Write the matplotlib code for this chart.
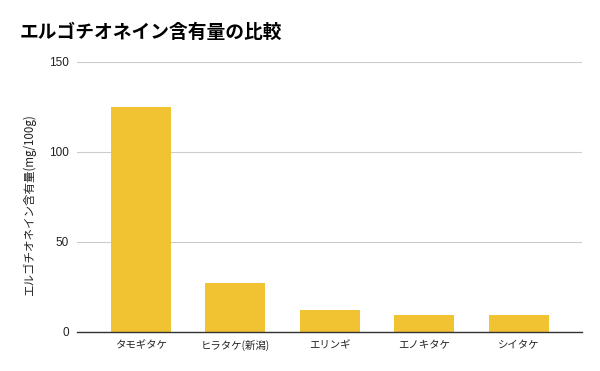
import matplotlib
matplotlib.use("Agg")
import matplotlib.pyplot as plt

plt.rcParams['font.family'] = ['Noto Sans CJK JP', 'DejaVu Sans']

categories = ["タモギタケ", "ヒラタケ(新潟)", "エリンギ", "エノキタケ", "シイタケ"]
values = [125, 27, 12, 9.4, 9.4]
yticks = [0, 50, 100, 150]

fig = plt.figure(figsize=(6, 3.71), dpi=100)
ax = fig.add_axes([77/600, 1-332/371, (582-77)/600, (332-61.5)/371])
x = list(range(len(categories)))
ax.bar(x, values, width=0.635, color="#F1C232", zorder=3)
ax.set_xlim(-0.677, 4.667)
ax.set_ylim(0, 150)
ax.set_yticks(yticks)
ax.set_xticks(x)
ax.set_xticklabels(categories, fontsize=7.5, color="#222222")
ax.tick_params(axis='y', labelsize=8.5, length=0, pad=6, colors="#222222")
for lbl in ax.get_yticklabels():
    lbl.set_family(["Liberation Sans", "DejaVu Sans"])
ax.tick_params(axis='x', length=0, pad=6)
ax.yaxis.grid(True, color="#cccccc", linewidth=0.8, zorder=0)
for s in ["top", "right", "left"]:
    ax.spines[s].set_visible(False)
ax.spines["bottom"].set_color("#333333")
ax.spines["bottom"].set_linewidth(1)
ax.spines["bottom"].set_zorder(4)
ax.set_ylabel("エルゴチオネイン含有量(mg/100g)", fontsize=8.3, color="#222222")
ax.yaxis.set_label_coords(-0.081, 0.47)
fig.text(20/600, 1-32/371, "エルゴチオネイン含有量の比較", fontsize=13.5, fontweight="bold",
         va="center", ha="left", color="#000000")
fig.savefig("out.png", dpi=100)
